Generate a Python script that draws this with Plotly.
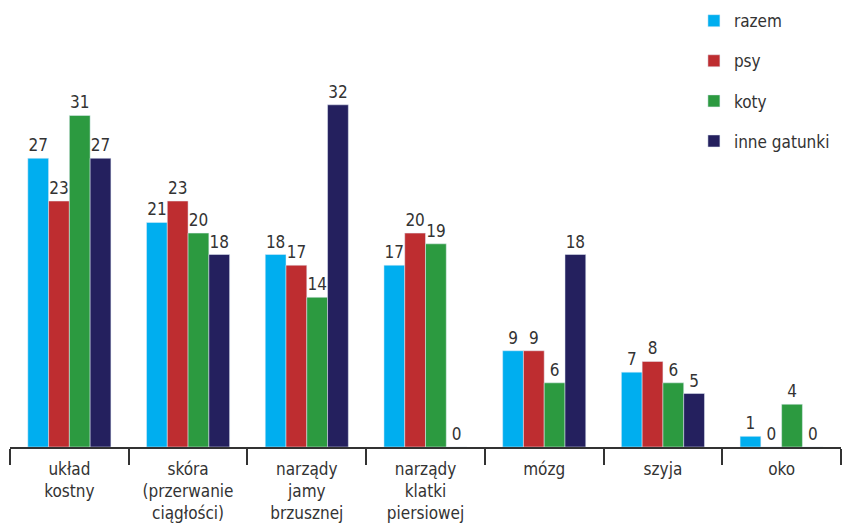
import plotly.graph_objects as go

categories = ["układ<br>kostny", "skóra<br>(przerwanie<br>ciągłości)", "narządy<br>jamy<br>brzusznej",
              "narządy<br>klatki<br>piersiowej", "mózg", "szyja", "oko"]
series_names = ["razem", "psy", "koty", "inne gatunki"]
razem = [27, 21, 18, 17, 9, 7, 1]
psy = [23, 23, 17, 20, 9, 8, 0]
koty = [31, 20, 14, 19, 6, 6, 4]
inne = [27, 18, 32, 0, 18, 5, 0]
colors = ["#00AEEF", "#BE2D30", "#2C9A40", "#24205E"]

FONT = "DejaVu Sans Condensed, Liberation Sans Narrow, Roboto, Arial, sans-serif"
fig = go.Figure()
for i, (name, vals) in enumerate(zip(series_names, [razem, psy, koty, inne])):
    fig.add_trace(go.Bar(
        x=categories, y=vals, name=name, marker_color=colors[i],
        text=[str(v) for v in vals], textposition="outside",
        textfont=dict(size=17, color="#333333", family=FONT),
        cliponaxis=False, legendgroup=name,
    ))

fig.update_layout(
    width=842, height=531,
    margin=dict(l=10, r=1, t=0, b=84, autoexpand=False),
    barmode="group", bargap=0.3, bargroupgap=0,
    plot_bgcolor="white", paper_bgcolor="white",
    font=dict(family=FONT, size=17, color="#333333"),
    showlegend=True,
    legend=dict(x=0.823, y=0.993, xanchor="left", yanchor="top", tracegroupgap=15,
                font=dict(size=17, color="#333333", family=FONT),
                bgcolor="rgba(0,0,0,0)"),
)
fig.update_xaxes(showline=True, linecolor="#333333", linewidth=1.5,
                 ticks="outside", tickson="boundaries", ticklen=16, tickwidth=1.5,
                 tickcolor="#333333", showgrid=False, tickangle=0, automargin=False,
                 ticklabelstandoff=6,
                 tickfont=dict(size=17, color="#333333", family=FONT))
fig.update_yaxes(visible=False, range=[0, 41.8], showgrid=False)

fig.write_html("out.html", config={"displayModeBar": False},
               post_script="document.body.style.margin='0px';")
